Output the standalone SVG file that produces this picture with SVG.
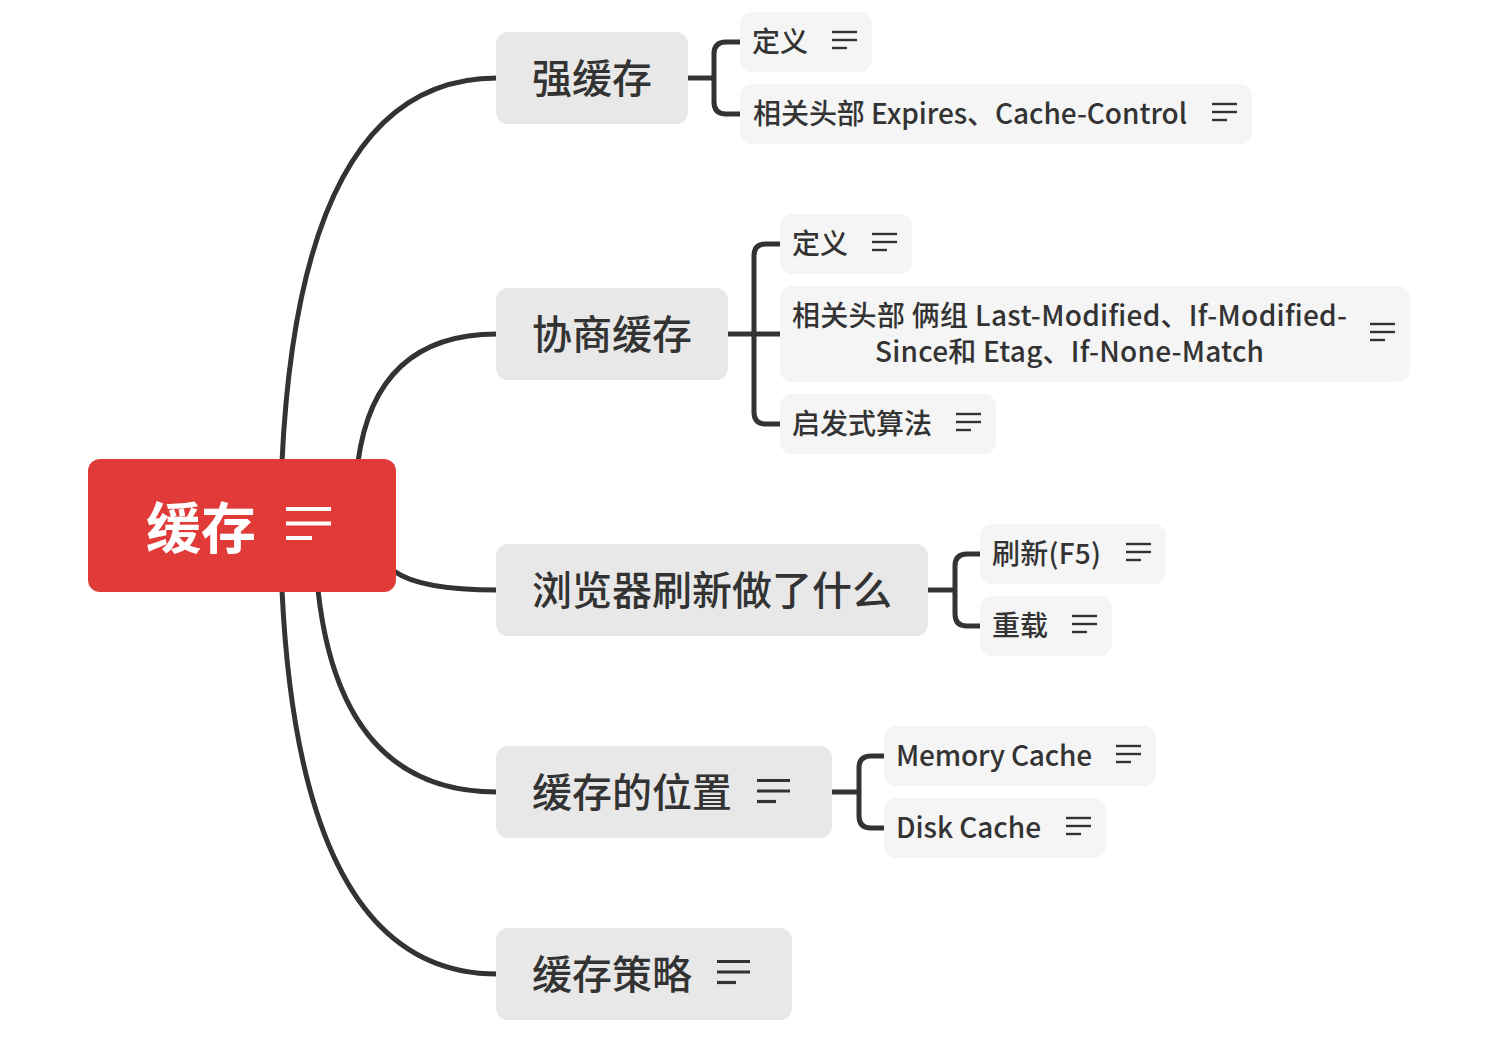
<svg xmlns="http://www.w3.org/2000/svg" width="1502" height="1062" viewBox="0 0 1502 1062">
  <style>
    text { font-family: "Noto Sans CJK SC", "Noto Sans", sans-serif; dominant-baseline: central; }
    .root-box { fill: #E13B39; }
    .root-text { fill: #ffffff; font-size: 55px; font-weight: bold; }
    .main-box { fill: #E8E8E8; }
    .main-text { fill: #333333; font-size: 40px; font-weight: 500; }
    .sub-box { fill: #F5F5F5; }
    .sub-text { fill: #333333; font-size: 28px; font-weight: 500; }
    .link { fill: none; stroke: #333333; stroke-width: 5; stroke-linecap: butt; }
    .icon-root { stroke: #ffffff; stroke-width: 4; }
    .icon-main { stroke: #333333; stroke-width: 3.2; }
    .icon-sub { stroke: #333333; stroke-width: 2.4; }
  </style>
  <defs>
    <!-- "notes" marker: three stacked lines, the last shorter -->
    <g id="notes-sub">
      <line x1="0" y1="-8" x2="25" y2="-8"/>
      <line x1="0" y1="0" x2="25" y2="0"/>
      <line x1="0" y1="8" x2="15" y2="8"/>
    </g>
    <g id="notes-main">
      <line x1="0" y1="-10.5" x2="33" y2="-10.5"/>
      <line x1="0" y1="0" x2="33" y2="0"/>
      <line x1="0" y1="10.5" x2="19" y2="10.5"/>
    </g>
  </defs>
  <rect width="1502" height="1062" fill="#ffffff"/>

  <!-- connectors -->
  <g id="connectors">
    <!-- root to main topics -->
    <path class="link" d="M 282 462 Q 300 78 497 78"/>
    <path class="link" d="M 358 462 Q 375 334 497 334"/>
    <path class="link" d="M 394 571 Q 420 590 497 590"/>
    <path class="link" d="M 318 590 Q 340 792 497 792"/>
    <path class="link" d="M 282 590 Q 300 974 497 974"/>
    <!-- 强缓存 bracket -->
    <path class="link" d="M 688 78 H 714"/>
    <path class="link" d="M 741 42 H 726 Q 714 42 714 54 V 102 Q 714 114 726 114 H 741"/>
    <!-- 协商缓存 bracket -->
    <path class="link" d="M 728 334 H 781"/>
    <path class="link" d="M 781 244 H 766 Q 754 244 754 256 V 412 Q 754 424 766 424 H 781"/>
    <!-- 浏览器刷新 bracket -->
    <path class="link" d="M 928 590 H 955"/>
    <path class="link" d="M 981 554 H 967 Q 955 554 955 566 V 614 Q 955 626 967 626 H 981"/>
    <!-- 缓存的位置 bracket -->
    <path class="link" d="M 832 792 H 859"/>
    <path class="link" d="M 885 756 H 871 Q 859 756 859 768 V 816 Q 859 828 871 828 H 885"/>
  </g>

  <!-- root -->
  <g id="root">
    <rect class="root-box" x="88" y="459" width="308" height="133" rx="12"/>
    <text class="root-text" x="146" y="524">缓存</text>
    <g class="icon-root">
      <line x1="286" y1="509" x2="331" y2="509"/>
      <line x1="286" y1="523.5" x2="331" y2="523.5"/>
      <line x1="286" y1="538" x2="312" y2="538"/>
    </g>
  </g>

  <!-- main topics -->
  <g id="topic-strong">
    <rect class="main-box" x="496" y="32" width="192" height="92" rx="12"/>
    <text class="main-text" x="532" y="76">强缓存</text>
  </g>
  <g id="topic-negotiate">
    <rect class="main-box" x="496" y="288" width="232" height="92" rx="12"/>
    <text class="main-text" x="532" y="332">协商缓存</text>
  </g>
  <g id="topic-refresh">
    <rect class="main-box" x="496" y="544" width="432" height="92" rx="12"/>
    <text class="main-text" x="532" y="588">浏览器刷新做了什么</text>
  </g>
  <g id="topic-location">
    <rect class="main-box" x="496" y="746" width="336" height="92" rx="12"/>
    <text class="main-text" x="532" y="790">缓存的位置</text>
    <use href="#notes-main" class="icon-main" x="757" y="791"/>
  </g>
  <g id="topic-strategy">
    <rect class="main-box" x="496" y="928" width="296" height="92" rx="12"/>
    <text class="main-text" x="532" y="972">缓存策略</text>
    <use href="#notes-main" class="icon-main" x="717" y="972"/>
  </g>

  <!-- subtopics of 强缓存 -->
  <g id="strong-def">
    <rect class="sub-box" x="740" y="12" width="132" height="60" rx="12"/>
    <text class="sub-text" x="752" y="40">定义</text>
    <use href="#notes-sub" class="icon-sub" x="832" y="40"/>
  </g>
  <g id="strong-headers">
    <rect class="sub-box" x="740" y="84" width="512" height="60" rx="12"/>
    <text class="sub-text" x="753" y="112" textLength="434" lengthAdjust="spacing">相关头部 Expires、Cache-Control</text>
    <use href="#notes-sub" class="icon-sub" x="1212" y="112"/>
  </g>

  <!-- subtopics of 协商缓存 -->
  <g id="negotiate-def">
    <rect class="sub-box" x="780" y="214" width="132" height="60" rx="12"/>
    <text class="sub-text" x="792" y="242">定义</text>
    <use href="#notes-sub" class="icon-sub" x="872" y="242"/>
  </g>
  <g id="negotiate-headers">
    <rect class="sub-box" x="780" y="286" width="630" height="96" rx="12"/>
    <text class="sub-text"><tspan x="792" y="314" textLength="555" lengthAdjust="spacing">相关头部 俩组 Last-Modified、If-Modified-</tspan><tspan x="875" y="350" textLength="389" lengthAdjust="spacing">Since和 Etag、If-None-Match</tspan></text>
    <use href="#notes-sub" class="icon-sub" x="1370" y="332"/>
  </g>
  <g id="negotiate-heuristic">
    <rect class="sub-box" x="780" y="394" width="216" height="60" rx="12"/>
    <text class="sub-text" x="792" y="422">启发式算法</text>
    <use href="#notes-sub" class="icon-sub" x="956" y="422"/>
  </g>

  <!-- subtopics of 浏览器刷新做了什么 -->
  <g id="refresh-f5">
    <rect class="sub-box" x="980" y="524" width="186" height="60" rx="12"/>
    <text class="sub-text" x="992" y="552" textLength="109" lengthAdjust="spacing">刷新(F5)</text>
    <use href="#notes-sub" class="icon-sub" x="1126" y="552"/>
  </g>
  <g id="refresh-reload">
    <rect class="sub-box" x="980" y="596" width="132" height="60" rx="12"/>
    <text class="sub-text" x="992" y="624">重载</text>
    <use href="#notes-sub" class="icon-sub" x="1072" y="624"/>
  </g>

  <!-- subtopics of 缓存的位置 -->
  <g id="location-memory">
    <rect class="sub-box" x="884" y="726" width="272" height="60" rx="12"/>
    <text class="sub-text" x="896" y="754" textLength="196" lengthAdjust="spacing">Memory Cache</text>
    <use href="#notes-sub" class="icon-sub" x="1116" y="754"/>
  </g>
  <g id="location-disk">
    <rect class="sub-box" x="884" y="798" width="222" height="60" rx="12"/>
    <text class="sub-text" x="896" y="826" textLength="145" lengthAdjust="spacing">Disk Cache</text>
    <use href="#notes-sub" class="icon-sub" x="1066" y="826"/>
  </g>
</svg>
